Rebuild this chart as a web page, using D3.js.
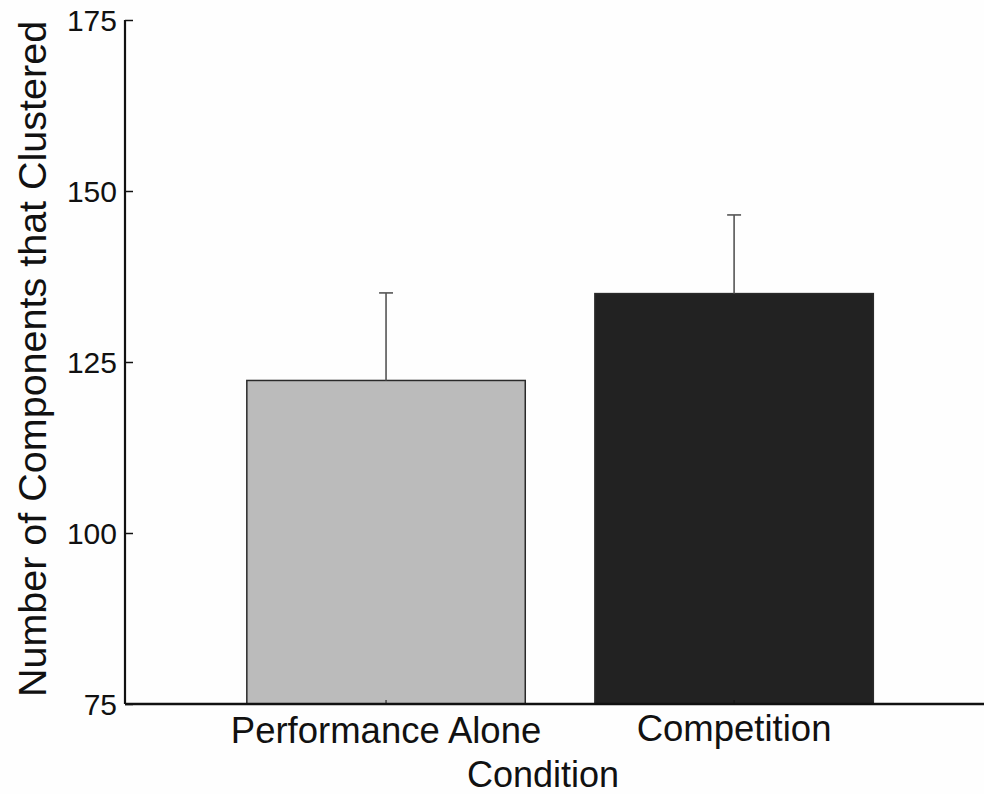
<!DOCTYPE html>
<html>
<head>
<meta charset="utf-8">
<script src="https://cdn.jsdelivr.net/npm/d3@7"></script>
<style>
  html, body { margin: 0; padding: 0; background: #fefefe; }
  svg { display: block; font-family: "Liberation Sans", Arial, sans-serif; }
</style>
</head>
<body>
<svg id="chart" width="984" height="794"></svg>
<script>
// Mean number of clustered components per condition, with upper error bars
const categories = ["Performance Alone", "Competition"];
const means = [122.3, 135.0];
const errorTops = [135.1, 146.5];
const barColors = ["#bbbbbb", "#222222"];
const yTicks = [75, 100, 125, 150, 175];

const svg = d3.select("#chart");
const W = 984, H = 794;

// Axes box: left edge at x=125, baseline at y=704, top at y=20
const y = d3.scaleLinear().domain([75, 175]).range([704, 20]);
// Categories sit at positions 1 and 2 on a continuous x scale
const x = d3.scaleLinear().domain([0.25, 2.718]).range([125, 984]);
const barWidth = 0.8;
const capHalf = 0.02;

svg.append("rect").attr("width", W).attr("height", H).attr("fill", "#fefefe");

// Bars
svg.selectAll("rect.bar")
  .data(means)
  .join("rect")
  .attr("class", "bar")
  .attr("x", (d, i) => x(i + 1 - barWidth / 2))
  .attr("width", x(barWidth) - x(0))
  .attr("y", d => y(d))
  .attr("height", d => y(75) - y(d))
  .attr("fill", (d, i) => barColors[i])
  .attr("stroke", "#2a2a2a")
  .attr("stroke-width", 1.5);

// Error bars (upper only)
const err = svg.append("g").attr("stroke", "#555").attr("stroke-width", 1.6).attr("fill", "none");
errorTops.forEach((t, i) => {
  err.append("line")
    .attr("x1", x(i + 1)).attr("x2", x(i + 1))
    .attr("y1", y(means[i])).attr("y2", y(t));
  err.append("line")
    .attr("x1", x(i + 1 - capHalf)).attr("x2", x(i + 1 + capHalf))
    .attr("y1", y(t)).attr("y2", y(t));
});

// Y axis with inward ticks
const yAxis = d3.axisRight(y).tickValues(yTicks).tickSize(8).tickFormat("");
const yg = svg.append("g").attr("transform", "translate(125,0)").call(yAxis);
yg.select(".domain").attr("stroke", "#111").attr("stroke-width", 2.2).attr("d", `M0,${y(175)}V${y(75)}`);
yg.selectAll(".tick line").attr("stroke", "#111").attr("stroke-width", 1.5);

svg.append("g").selectAll("text")
  .data(yTicks)
  .join("text")
  .attr("x", 117)
  .attr("y", d => y(d))
  .attr("dy", "0.36em")
  .attr("text-anchor", "end")
  .attr("font-size", 30)
  .attr("fill", "#111")
  .text(d => d);

// X axis line with small inward ticks at category centres
svg.append("line")
  .attr("x1", 125).attr("x2", W)
  .attr("y1", y(75)).attr("y2", y(75))
  .attr("stroke", "#111").attr("stroke-width", 2.4);
svg.append("g").selectAll("line")
  .data(categories)
  .join("line")
  .attr("x1", (d, i) => x(i + 1)).attr("x2", (d, i) => x(i + 1))
  .attr("y1", y(75)).attr("y2", y(75) - 4)
  .attr("stroke", "#111").attr("stroke-width", 1);

// Category labels
const labelBaselines = [743, 741];
svg.append("g").selectAll("text")
  .data(categories)
  .join("text")
  .attr("x", (d, i) => x(i + 1))
  .attr("y", (d, i) => labelBaselines[i])
  .attr("text-anchor", "middle")
  .attr("font-size", 36.5)
  .attr("fill", "#111")
  .text(d => d);

// Axis titles
svg.append("text")
  .attr("x", 543).attr("y", 787)
  .attr("text-anchor", "middle")
  .attr("font-size", 36)
  .attr("fill", "#111")
  .text("Condition");

svg.append("text")
  .attr("transform", "translate(46,359) rotate(-90)")
  .attr("text-anchor", "middle")
  .attr("font-size", 39.5)
  .attr("fill", "#111")
  .text("Number of Components that Clustered");
</script>
</body>
</html>
